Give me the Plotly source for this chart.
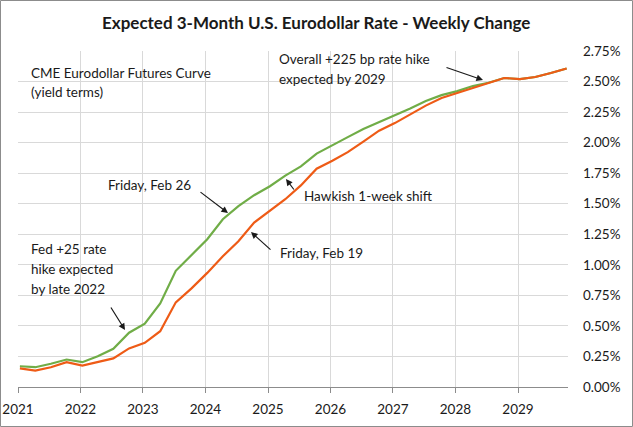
import plotly.graph_objects as go

# Quarterly contract points (dates) from 2021 through late 2029
dates = [f"{y}-{m:02d}-12" for y in range(2021, 2030) for m in (1, 4, 7, 10)]

feb26 = [0.170, 0.162, 0.190, 0.225, 0.203, 0.252, 0.313, 0.444, 0.518, 0.684,
         0.951, 1.082, 1.209, 1.373, 1.480, 1.570, 1.643, 1.730, 1.805, 1.910,
         1.975, 2.045, 2.111, 2.168, 2.221, 2.279, 2.340, 2.389, 2.422, 2.463,
         2.490, 2.529, 2.520, 2.537, 2.570, 2.607]
feb19 = [0.152, 0.135, 0.162, 0.203, 0.176, 0.203, 0.234, 0.316, 0.362, 0.457,
         0.693, 0.807, 0.934, 1.070, 1.193, 1.346, 1.439, 1.537, 1.650, 1.787,
         1.852, 1.922, 2.008, 2.098, 2.160, 2.234, 2.303, 2.365, 2.406, 2.451,
         2.487, 2.529, 2.520, 2.537, 2.570, 2.607]

y_ticks = [0.25 * i for i in range(12)]
y_tick_text = [f"{v:.2f}%" for v in y_ticks]

FONT = "Lato"
W, H = 633, 427
L, R, T, B = 18, 65, 51, 40
PW, PH = W - L - R, H - T - B


def px(xp):
    return (xp - L) / PW


def py(yp):
    return (H - B - yp) / PH


fig = go.Figure()
fig.add_trace(go.Scatter(x=dates, y=feb26, mode="lines", name="Friday, Feb 26",
                         line=dict(color="#70AD47", width=2.2)))
fig.add_trace(go.Scatter(x=dates, y=feb19, mode="lines", name="Friday, Feb 19",
                         line=dict(color="#EE5B16", width=2.2)))

annotations = []


def text(t, x, y, anchor="left"):
    annotations.append(dict(text=t, x=px(x), y=py(y), xref="paper", yref="paper",
                            xanchor=anchor, yanchor="middle", showarrow=False,
                            font=dict(family=FONT, size=13.5, color="#1a1a1a")))


def arrow(tail, tip):
    annotations.append(dict(text="", x=px(tip[0]), y=py(tip[1]), xref="paper", yref="paper",
                            ax=tail[0] - tip[0], ay=tail[1] - tip[1],
                            showarrow=True, arrowhead=2, arrowsize=1.1, arrowwidth=1.2,
                            arrowcolor="#1a1a1a", standoff=0, startstandoff=0))


text("CME Eurodollar Futures Curve", 29, 73)
text("(yield terms)", 29, 92)
text("Overall +225 bp rate hike", 277, 59)
text("expected by 2029", 277, 79)
text("Friday, Feb 26", 193, 185, anchor="right")
text("Hawkish 1-week shift", 302, 196)
text("Friday, Feb 19", 278, 253)
text("Fed +25 rate", 29, 249)
text("hike expected", 29, 269)
text("by late 2022", 29, 289)

arrow((445, 67), (483, 80))
arrow((295, 191), (286, 179))
arrow((272, 251), (251, 232))
arrow((199, 191), (228, 213))
arrow((110, 306), (125, 330))

annotations.append(dict(text="<b>Expected 3-Month U.S. Eurodollar Rate - Weekly Change</b>",
                        x=px(316), y=py(22), xref="paper", yref="paper",
                        xanchor="center", yanchor="middle", showarrow=False,
                        font=dict(family=FONT, size=17, color="#1a1a1a")))

fig.update_layout(
    template="none",
    width=W, height=H,
    margin=dict(l=L, r=R, t=T, b=B, autoexpand=False),
    paper_bgcolor="white", plot_bgcolor="white",
    showlegend=False,
    annotations=annotations,
    shapes=[dict(type="rect", xref="paper", yref="paper",
                 x0=px(0.5), x1=px(W - 0.5), y0=py(H - 0.5), y1=py(0.5),
                 line=dict(color="#8c8c8c", width=1))],
    xaxis=dict(type="date", range=["2021-01-01", "2029-10-20"],
               dtick="M12", tick0="2021-01-01", tickformat="%Y",
               automargin=False,
               showgrid=True, gridcolor="#D9D9D9", gridwidth=1,
               showline=True, linecolor="#8c8c8c", linewidth=1,
               ticks="outside", ticklen=5, tickcolor="#8c8c8c",
               ticklabelstandoff=5,
               tickfont=dict(family=FONT, size=13.5, color="#1a1a1a"),
               zeroline=False),
    yaxis=dict(side="right", range=[0, 2.75], tickvals=y_ticks, ticktext=y_tick_text,
               automargin=False,
               showgrid=True, gridcolor="#D9D9D9", gridwidth=1,
               showline=False, ticks="", ticklabelstandoff=14,
               tickfont=dict(family=FONT, size=13.5, color="#1a1a1a"),
               zeroline=False),
)

fig.write_html("out.html", config={"displayModeBar": False},
               post_script="document.body.style.margin='0';")
